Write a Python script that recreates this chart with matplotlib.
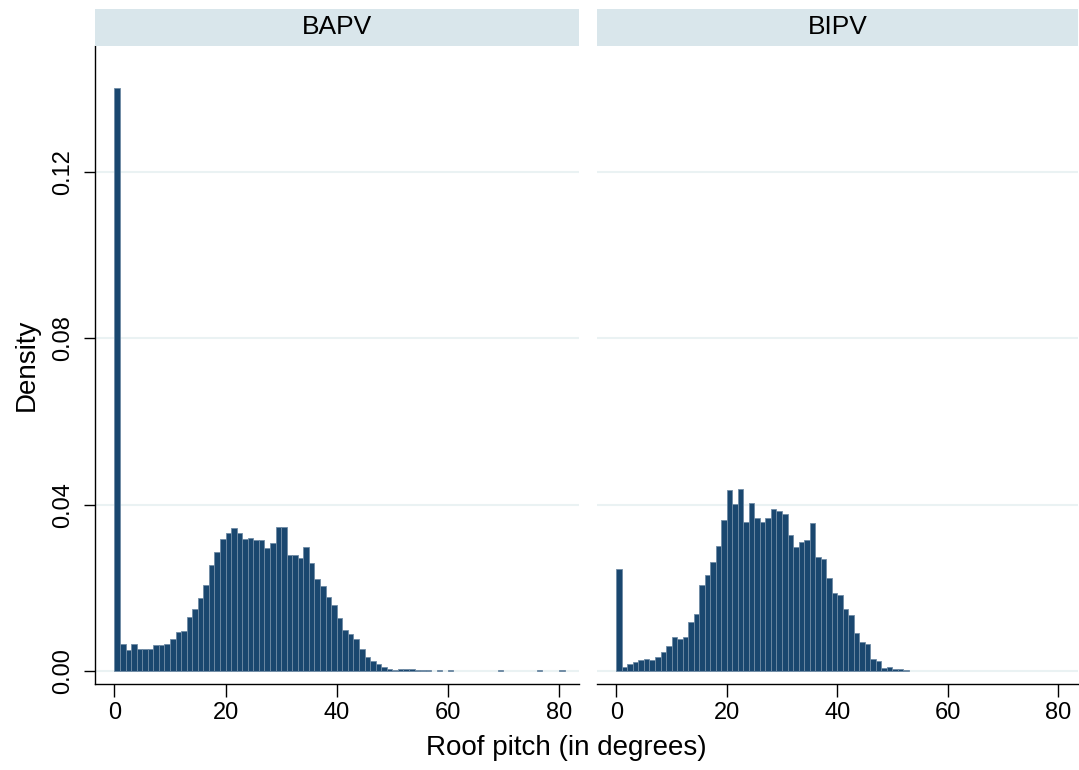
import numpy as np
import matplotlib.pyplot as plt
from matplotlib.patches import Rectangle

plt.rcParams['font.family'] = ['Liberation Sans', 'DejaVu Sans']

# -------------------------------
# Histogram densities, 1-degree bins starting at 0
# -------------------------------
bapv_density = [
    0.1400, 0.0065, 0.0050, 0.0066, 0.0052, 0.0054, 0.0052, 0.0063, 0.0062, 0.0065,
    0.0078, 0.0094, 0.0097, 0.0130, 0.0149, 0.0176, 0.0208, 0.0256, 0.0287, 0.0318,
    0.0333, 0.0345, 0.0332, 0.0318, 0.0321, 0.0314, 0.0316, 0.0296, 0.0307, 0.0347,
    0.0346, 0.0278, 0.0279, 0.0271, 0.0299, 0.0260, 0.0221, 0.0204, 0.0178, 0.0160,
    0.0127, 0.0099, 0.0090, 0.0076, 0.0052, 0.0035, 0.0025, 0.0016, 0.0010, 0.0006,
    0.0003, 0.0006, 0.0006, 0.0005, 0.0002, 0.0002, 0.0002, 0.0000, 0.0002, 0.0000,
    0.0002, 0.0000, 0.0000, 0.0000, 0.0000, 0.0000, 0.0000, 0.0000, 0.0000, 0.0002,
    0.0000, 0.0000, 0.0000, 0.0000, 0.0000, 0.0000, 0.0002, 0.0000, 0.0000, 0.0000,
    0.0002,
]

bipv_density = [
    0.0246, 0.0011, 0.0017, 0.0022, 0.0026, 0.0030, 0.0026, 0.0033, 0.0046, 0.0060,
    0.0082, 0.0077, 0.0082, 0.0119, 0.0136, 0.0208, 0.0232, 0.0262, 0.0300, 0.0362,
    0.0434, 0.0402, 0.0438, 0.0358, 0.0403, 0.0369, 0.0358, 0.0369, 0.0390, 0.0385,
    0.0377, 0.0327, 0.0298, 0.0310, 0.0314, 0.0355, 0.0274, 0.0270, 0.0223, 0.0188,
    0.0184, 0.0150, 0.0134, 0.0091, 0.0070, 0.0064, 0.0030, 0.0025, 0.0007, 0.0010,
    0.0006, 0.0006, 0.0002,
]

panels = ["BAPV", "BIPV"]
series = [bapv_density, bipv_density]
x_ticks = [0, 20, 40, 60, 80]
y_ticks = [0.00, 0.04, 0.08, 0.12]
y_tick_labels = ["0.00", "0.04", "0.08", "0.12"]

BAR_COLOR = "#1a476f"
EDGE_COLOR = "#6f8ba5"
GRID_COLOR = "#eaf2f3"
STRIP_COLOR = "#d9e6eb"

W, H = 1079, 770
fig = plt.figure(figsize=(W / 100, H / 100), dpi=100)

# axes boxes in pixels: (left, right)
boxes = [(95, 579), (597, 1078)]
top_px, bottom_px = 46, 684

for i, (name, dens, (l, r)) in enumerate(zip(panels, series, boxes)):
    ax = fig.add_axes([l / W, 1 - bottom_px / H, (r - l) / W, (bottom_px - top_px) / H])
    dens = np.asarray(dens)
    edges = np.arange(len(dens))
    keep = dens > 0
    ax.bar(edges[keep], dens[keep], width=1.0, align='edge',
           color=BAR_COLOR, edgecolor=EDGE_COLOR, linewidth=0.6, zorder=3)

    ax.set_xlim(-3.5, 83.6)
    ax.set_ylim(-0.0031, 0.1502)
    for yv in y_ticks:
        ax.axhline(yv, color=GRID_COLOR, lw=1.5, zorder=1)

    for side in ['top', 'right']:
        ax.spines[side].set_visible(False)
    ax.spines['bottom'].set_linewidth(1.0)
    ax.set_xticks(x_ticks)
    ax.tick_params(axis='x', length=9, width=1.0, labelsize=17, pad=4)

    if i == 0:
        ax.spines['left'].set_linewidth(1.0)
        ax.set_yticks(y_ticks)
        ax.set_yticklabels(y_tick_labels, rotation=90, va='center')
        ax.tick_params(axis='y', length=8, width=1.0, labelsize=17, pad=7)
        ax.set_ylabel("Density", fontsize=20, labelpad=9)
    else:
        ax.spines['left'].set_visible(False)
        ax.set_yticks([])

    # panel header strip
    fig.patches.append(Rectangle((l / W, 1 - 46 / H), (r - l) / W, 36.5 / H,
                                 transform=fig.transFigure, facecolor=STRIP_COLOR,
                                 edgecolor='none'))
    fig.text((l + r) / 2 / W, 1 - 26.5 / H, name, ha='center', va='center', fontsize=19)

fig.text(566 / W, 1 - 748 / H, "Roof pitch (in degrees)", ha='center', va='center', fontsize=20)

plt.savefig("out.png", dpi=100)
plt.close()
